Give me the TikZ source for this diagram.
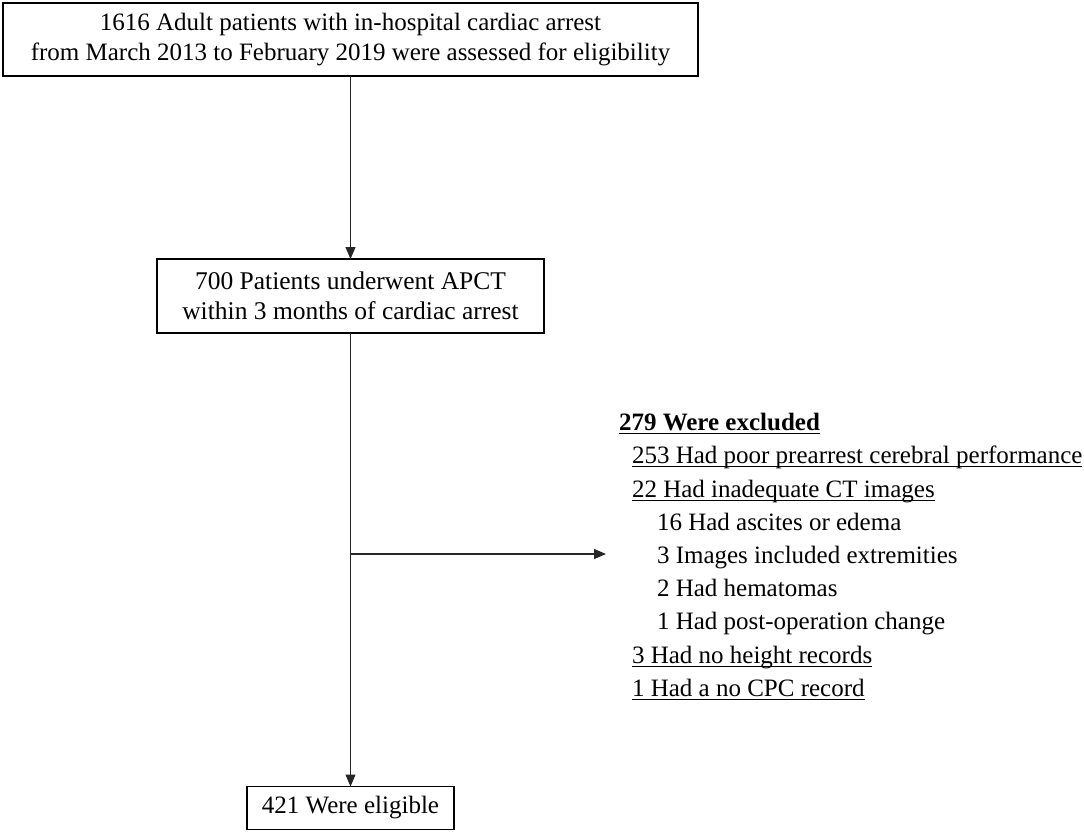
\documentclass[tikz,border=0pt]{standalone}
\usepackage{fontspec}
\setmainfont{Liberation Serif}
\usetikzlibrary{arrows.meta}
\newsavebox{\myulbox}
\newcommand{\myul}[1]{\sbox{\myulbox}{#1}\rlap{\rule[-3.9pt]{\wd\myulbox}{1.3pt}}\usebox{\myulbox}}
\begin{document}
\begin{tikzpicture}[x=1pt,y=-1pt,
  every node/.style={inner sep=0pt,outer sep=0pt,font=\fontsize{25}{30}\selectfont},
  flowbox/.style={draw=black,line width=1.4pt,align=center},
  exitem/.style={anchor=base west},
  conn/.style={line width=1.1pt,draw=black!85,-{Triangle[length=12pt,width=10pt]}}]
\useasboundingbox (0,0) rectangle (1084,832);
\node[flowbox,minimum width=695pt,minimum height=73pt] (top) at (350.5,39.5)
  {1616 Adult patients with in-hospital cardiac arrest\\from March 2013 to February 2019 were assessed for eligibility};
\node[flowbox,minimum width=387pt,minimum height=74pt,font=\fontsize{25.5}{30}\selectfont] (apct) at (350.5,296)
  {700 Patients underwent APCT\\within 3 months of cardiac arrest};
\node[flowbox,minimum width=207pt,minimum height=43pt] (elig) at (350.5,808)
  {421 Were eligible};
\node[exitem] (ex0) at (619,430) {\myul{\textbf{279 Were excluded}}};
\node[exitem] (ex1) at (632,463) {\myul{253 Had poor prearrest cerebral performance}};
\node[exitem] (ex2) at (632,497) {\myul{22 Had inadequate CT images}};
\node[exitem] (ex3) at (657,530) {16 Had ascites or edema};
\node[exitem] (ex4) at (657,563) {3 Images included extremities};
\node[exitem] (ex5) at (657,596) {2 Had hematomas};
\node[exitem] (ex6) at (657,629) {1 Had post-operation change};
\node[exitem] (ex7) at (632,663) {\myul{3 Had no height records}};
\node[exitem] (ex8) at (632,696) {\myul{1 Had a no CPC record}};
\coordinate (split) at (350.5,554);
\coordinate (tip) at (606,554);
\draw[conn] (top.south) -- (apct.north);
\draw[conn] (apct.south) -- (elig.north);
\draw[conn] (split) -- (tip);
\end{tikzpicture}
\end{document}
